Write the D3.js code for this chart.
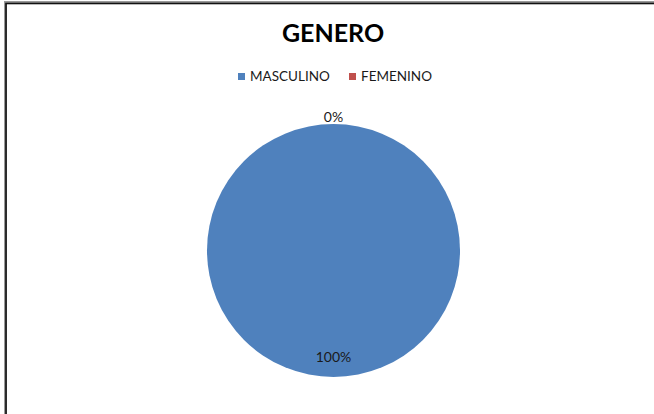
<!DOCTYPE html>
<html>
<head>
<meta charset="utf-8">
<script src="https://cdn.jsdelivr.net/npm/d3@7"></script>
<style>
  body { margin: 0; background: #fff; }
  svg text { font-family: Lato, "Open Sans", sans-serif; }
</style>
</head>
<body>
<div id="wrapper"></div>
<script>
const categories = ["MASCULINO", "FEMENINO"];
const values = [100, 0];
const labels = ["100%", "0%"];
const colors = ["#4F81BD", "#C0504D"];

const dimension = { width: 654, height: 414 };
const center = { x: 333.5, y: 250.5 };
const radius = 126.5;

const svg = d3.select("#wrapper").append("svg")
    .attr("width", dimension.width)
    .attr("height", dimension.height);

// chart frame
svg.append("rect")
    .attr("x", 5.5).attr("y", 2.5)
    .attr("width", 700).attr("height", 500)
    .attr("fill", "none")
    .attr("stroke", "#999").attr("stroke-width", 3);
svg.append("rect")
    .attr("x", 6).attr("y", 3.5)
    .attr("width", 700).attr("height", 500)
    .attr("fill", "none")
    .attr("stroke", "#111").attr("stroke-width", 1.6);

svg.append("text")
    .attr("x", 333).attr("y", 42)
    .attr("text-anchor", "middle")
    .style("font-size", "25px")
    .style("font-weight", "bold")
    .attr("fill", "#000")
    .text("GENERO");

// legend
const legendX = [238, 349];
const legend = svg.append("g");
categories.forEach((c, i) => {
    legend.append("rect")
        .attr("x", legendX[i]).attr("y", 73)
        .attr("width", 7).attr("height", 7)
        .attr("fill", colors[i]);
    legend.append("text")
        .attr("x", legendX[i] + 12).attr("y", 81)
        .style("font-size", "13.5px")
        .attr("fill", "#1a1a1a")
        .text(c);
});

const pie = d3.pie().sort(null).value(d => d)(values);
const arc = d3.arc().innerRadius(0).outerRadius(radius);

const g = svg.append("g")
    .attr("transform", `translate(${center.x},${center.y})`);

g.selectAll("path")
    .data(pie)
    .join("path")
    .attr("d", arc)
    .attr("fill", (d, i) => colors[i]);

const labelRadius = [radius * 0.84, radius * 1.055];
g.selectAll("text.lbl")
    .data(pie)
    .join("text")
    .attr("class", "lbl")
    .attr("transform", (d, i) => {
        const a = d3.arc().innerRadius(labelRadius[i]).outerRadius(labelRadius[i]);
        const [x, y] = a.centroid(d);
        return `translate(${x},${y})`;
    })
    .attr("text-anchor", "middle")
    .attr("dy", "0.35em")
    .style("font-size", "14px")
    .attr("fill", "#1a1a1a")
    .text((d, i) => labels[i]);
</script>
</body>
</html>
